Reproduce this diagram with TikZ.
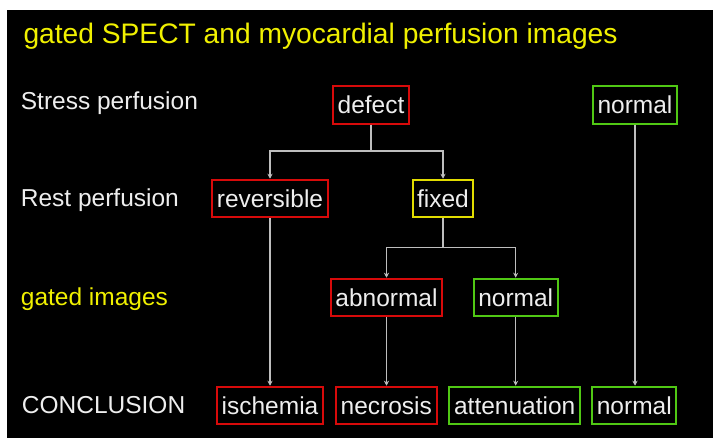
\documentclass[tikz,border=0pt]{standalone}
\usepackage{fontspec}
\setmainfont{Liberation Sans}
\usetikzlibrary{arrows.meta}
\definecolor{boxred}{RGB}{215,10,10}
\definecolor{boxyellow}{RGB}{225,220,0}
\definecolor{boxgreen}{RGB}{80,200,20}
\definecolor{txtyellow}{RGB}{240,240,0}
\definecolor{txtwhite}{RGB}{238,238,238}
\definecolor{linegrey}{RGB}{190,190,190}
\begin{document}
\begin{tikzpicture}[x=1pt,y=-1pt,
  box/.style={draw, line width=2pt, text=txtwhite, font=\fontsize{24.5}{26}\selectfont,
    inner xsep=4.6pt, inner ysep=0pt, minimum height=37.5pt, text height=17.5pt, text depth=0pt},
  redbox/.style={box, draw=boxred},
  yellowbox/.style={box, draw=boxyellow},
  greenbox/.style={box, draw=boxgreen},
  rowlabel/.style={anchor=base west, inner sep=0pt, text=txtwhite, font=\fontsize{24.5}{26}\selectfont},
  conn/.style={draw=linegrey, line width=1.5pt},
  arr/.style={conn, -{Stealth[length=5pt,width=5pt]}}
]
\useasboundingbox (0,0) rectangle (713,438);
\fill[white] (0,0) rectangle (713,438);
\fill[black] (6.5,10) rectangle (713,438);

% title
\node[anchor=base west, inner sep=0pt, text=txtyellow, font=\fontsize{28.2}{30}\selectfont] (title) at (23.3,43.5) {gated SPECT and myocardial perfusion images};

% row labels
\node[rowlabel] (lstress) at (20.7,110) {Stress perfusion};
\node[rowlabel] (lrest) at (20.7,206.7) {Rest perfusion};
\node[rowlabel, text=txtyellow] (lgated) at (20.7,306) {gated images};
\node[rowlabel] (lconc) at (21.7,413.3) {CONCLUSION};

% boxes
\node[redbox] (defect) at (371,105) {defect};
\node[greenbox] (snormal) at (635,105) {normal};
\node[redbox] (reversible) at (270,198.5) {reversible};
\node[yellowbox] (fixed) at (443,198.5) {fixed};
\node[redbox] (abnormal) at (386.5,297.5) {abnormal};
\node[greenbox] (gnormal) at (515.7,297.5) {normal};
\node[redbox] (ischemia) at (270,405.5) {ischemia};
\node[redbox] (necrosis) at (386.3,405.5) {necrosis};
\node[greenbox] (attenuation) at (514.7,405.5) {attenuation};
\node[greenbox] (cnormal) at (634.3,405.5) {normal};

% junctions
\coordinate (j1) at (371,151);
\coordinate (j2) at (443,247.3);

% connectors
\draw[conn] (defect.south) -- (j1);
\draw[arr] (j1) -| (reversible.north);
\draw[arr] (j1) -| (fixed.north);
\draw[conn] (fixed.south) -- (j2);
\draw[arr] (j2) -| (abnormal.north);
\draw[arr] (j2) -| (gnormal.north);
\draw[arr] (reversible.south) -- (reversible.south |- ischemia.north);
\draw[arr] (abnormal.south) -- (abnormal.south |- necrosis.north);
\draw[arr] (gnormal.south) -- (gnormal.south |- attenuation.north);
\draw[arr] (snormal.south) -- (snormal.south |- cnormal.north);
\end{tikzpicture}
\end{document}
